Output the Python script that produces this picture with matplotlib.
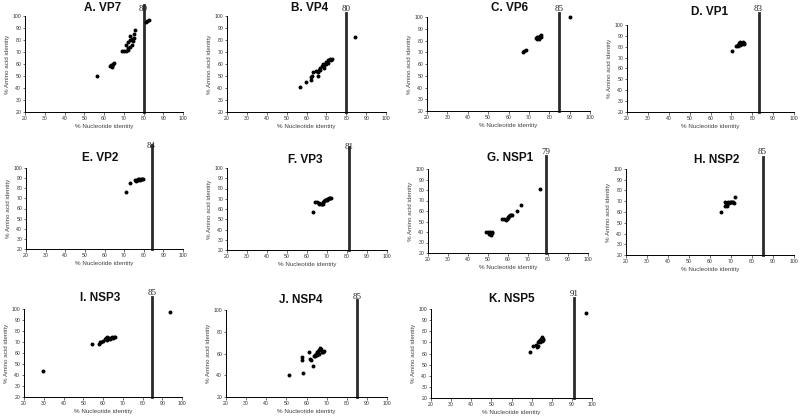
import matplotlib

matplotlib.use("Agg")
import matplotlib.pyplot as plt

plt.rcParams["font.family"] = ["Liberation Sans", "DejaVu Sans"]

# % nucleotide identity (x) and % amino acid identity (y) per gene
vp7_nt = [56.5, 63.5, 64, 64.5, 65, 64, 63, 69, 70, 71, 72, 71, 72, 73, 73, 74, 74.5, 75, 75, 75.5, 74, 73, 72, 81.5, 82, 83]
vp7_aa = [50, 59, 58, 60, 61, 57.5, 58.5, 71, 71, 70.5, 72, 76, 78, 80, 83, 81, 79, 82, 85, 88, 76, 74, 73, 95, 96, 97]

vp4_nt = [56.5, 59.5, 62.5, 62.5, 63, 63.5, 65, 66, 66, 67, 67, 68, 68.5, 69, 70, 70, 71, 71, 72, 72.5, 73, 69, 66.5, 84.5]
vp4_aa = [40.5, 45, 47, 49, 50, 53, 54, 50, 53, 55, 57, 58, 60, 59, 60, 62, 61, 63, 64, 63, 64, 57, 55, 82.5]

vp6_nt = [67, 67.5, 68.5, 73.5, 74, 74.5, 75, 75.5, 76, 76, 74, 75, 90]
vp6_aa = [70, 71, 72, 82, 83, 83, 82, 84, 83, 84.5, 81.5, 81.5, 100]

vp1_nt = [70.5, 72, 73, 73.5, 74, 74.5, 75, 75.5, 76, 76, 73, 74]
vp1_aa = [76.5, 81, 82, 83, 82, 83.5, 82.5, 84, 83, 82.5, 81, 84]

vp2_nt = [71, 73, 75.5, 76, 77, 77.5, 78, 78.5, 79, 79.5, 77, 76.5]
vp2_aa = [76, 85, 88, 87.5, 88, 89, 88.5, 89, 89, 89.5, 89, 88.5]

vp3_nt = [63, 64, 65, 66, 67, 67.5, 68, 68.5, 69, 69.5, 70, 70.5, 71, 71.5, 72, 66, 68, 70]
vp3_aa = [57, 66.5, 66.5, 66, 65, 64.5, 67, 68, 69, 68.5, 70, 69.5, 70.5, 71, 71, 65, 65, 68.5]

nsp1_nt = [49, 50, 51, 51, 52, 51.5, 50.5, 52, 57, 58, 59, 59.5, 60, 60.5, 61, 61.5, 62, 60, 64.5, 66.5, 76]
nsp1_aa = [40, 40, 40, 38, 39, 37.5, 38.5, 40, 52, 52, 51, 52, 53, 55, 56, 56, 56, 54, 60, 66, 81]

nsp2_nt = [65, 67, 67.5, 68, 68.5, 69, 69.5, 70, 70.5, 71, 71.5, 67, 68, 72]
nsp2_aa = [60, 66, 68, 67, 69, 68, 69, 69, 69, 69, 68.5, 69, 65.5, 74]

nsp3_nt = [29.5, 54.5, 58, 58.5, 59, 60, 61, 61.5, 62, 63, 63.5, 64, 64.5, 65, 65.5, 66, 62, 94]
nsp3_aa = [44, 68.5, 68, 70, 70, 71, 73, 74, 72, 74, 73, 74, 75, 74, 75, 74.5, 75, 97]

nsp4_nt = [51.5, 58, 58, 58.5, 61, 61.5, 62, 63, 63.5, 64, 64.5, 65, 65.5, 66, 66.5, 67, 67.5, 68, 68.5, 66, 65, 64]
nsp4_aa = [40, 54, 57, 42, 61, 55, 54, 48.5, 58, 59, 60, 59, 62, 63, 65, 64, 61, 61, 62, 60, 61, 57.5]

nsp5_nt = [69, 70.5, 72, 72.5, 73, 73.5, 74, 74.5, 75, 75, 75.5, 74, 75, 75.5, 73, 97]
nsp5_aa = [61.5, 66.5, 68, 66, 70, 71, 72, 73, 74, 75, 73, 70, 71, 72, 67, 96]

titles = ["A. VP7", "B. VP4", "C. VP6", "D. VP1", "E. VP2", "F. VP3",
          "G. NSP1", "H. NSP2", "I. NSP3", "J. NSP4", "K. NSP5"]
cutoffs = [80, 80, 85, 83, 84, 81, 79, 85, 85, 85, 91]
nt_values = [vp7_nt, vp4_nt, vp6_nt, vp1_nt, vp2_nt, vp3_nt, nsp1_nt, nsp2_nt, nsp3_nt, nsp4_nt, nsp5_nt]
aa_values = [vp7_aa, vp4_aa, vp6_aa, vp1_aa, vp2_aa, vp3_aa, nsp1_aa, nsp2_aa, nsp3_aa, nsp4_aa, nsp5_aa]

# layout in pixels: axes box (left, top, right, bottom), cutoff line top, label y, title (x, y)
W, H = 800, 416
boxes = [
    (25, 16, 183, 112), (227, 16, 386, 112), (427, 17, 590, 111), (627, 25, 794, 112),
    (26, 168, 183, 249), (227, 168, 387, 250), (428, 169, 588, 253), (626, 169, 794, 255),
    (24, 309, 182, 397), (226, 310, 387, 397), (431, 309, 592, 398),
]
line_tops = [5, 13, 13, 13, 145, 147, 156, 157, 297, 300, 298]
label_ys = [9, 9, 9, 9, 146, 147, 152, 152, 293, 297, 294]
title_pos = [(103, 8), (310, 8), (510, 8), (710, 12), (100, 158), (305, 160),
             (510, 158), (717, 160), (100, 298), (301, 300), (512, 299)]

fig = plt.figure(figsize=(W / 100, H / 100), dpi=100)
fig.patch.set_facecolor("white")

for i, title in enumerate(titles):
    left, top, right, bottom = boxes[i]
    ax = fig.add_axes([left / W, 1 - bottom / H, (right - left) / W, (bottom - top) / H])
    ax.scatter(nt_values[i], aa_values[i], s=8, color="black", linewidths=0, zorder=3, clip_on=False)

    frac_line = (bottom - line_tops[i]) / (bottom - top)
    frac_label = (bottom - label_ys[i]) / (bottom - top)
    ax.axvline(cutoffs[i], ymin=0, ymax=frac_line, color="#2a2a2a", linewidth=2.0, clip_on=False)
    ax.text(cutoffs[i], frac_label, str(cutoffs[i]), transform=ax.get_xaxis_transform(),
            ha="center", va="center", fontsize=6.5, color="#222222",
            family=["Liberation Serif", "DejaVu Serif"])

    ax.set_xlim(20, 100)
    ax.set_ylim(20, 100)
    ax.set_xticks(range(20, 101, 10))
    if title.startswith("J."):
        ax.set_yticks(range(20, 101, 20))
    else:
        ax.set_yticks(range(20, 101, 10))
    ax.tick_params(labelsize=3.7, length=1.8, width=0.5, pad=1, colors="#333333")
    for side in ("top", "right"):
        ax.spines[side].set_visible(False)
    for side in ("left", "bottom"):
        ax.spines[side].set_linewidth(0.7)
    ax.set_xlabel("% Nucleotide identity", fontsize=4.5, color="#444444", labelpad=2)
    ax.set_ylabel("% Amino acid identity", fontsize=4.5, color="#444444", labelpad=2)

    tx, ty = title_pos[i]
    fig.text(tx / W, 1 - ty / H, title, ha="center", va="center",
             fontsize=8.5, fontweight="bold", color="#111111")

fig.savefig("out.png", dpi=100)
